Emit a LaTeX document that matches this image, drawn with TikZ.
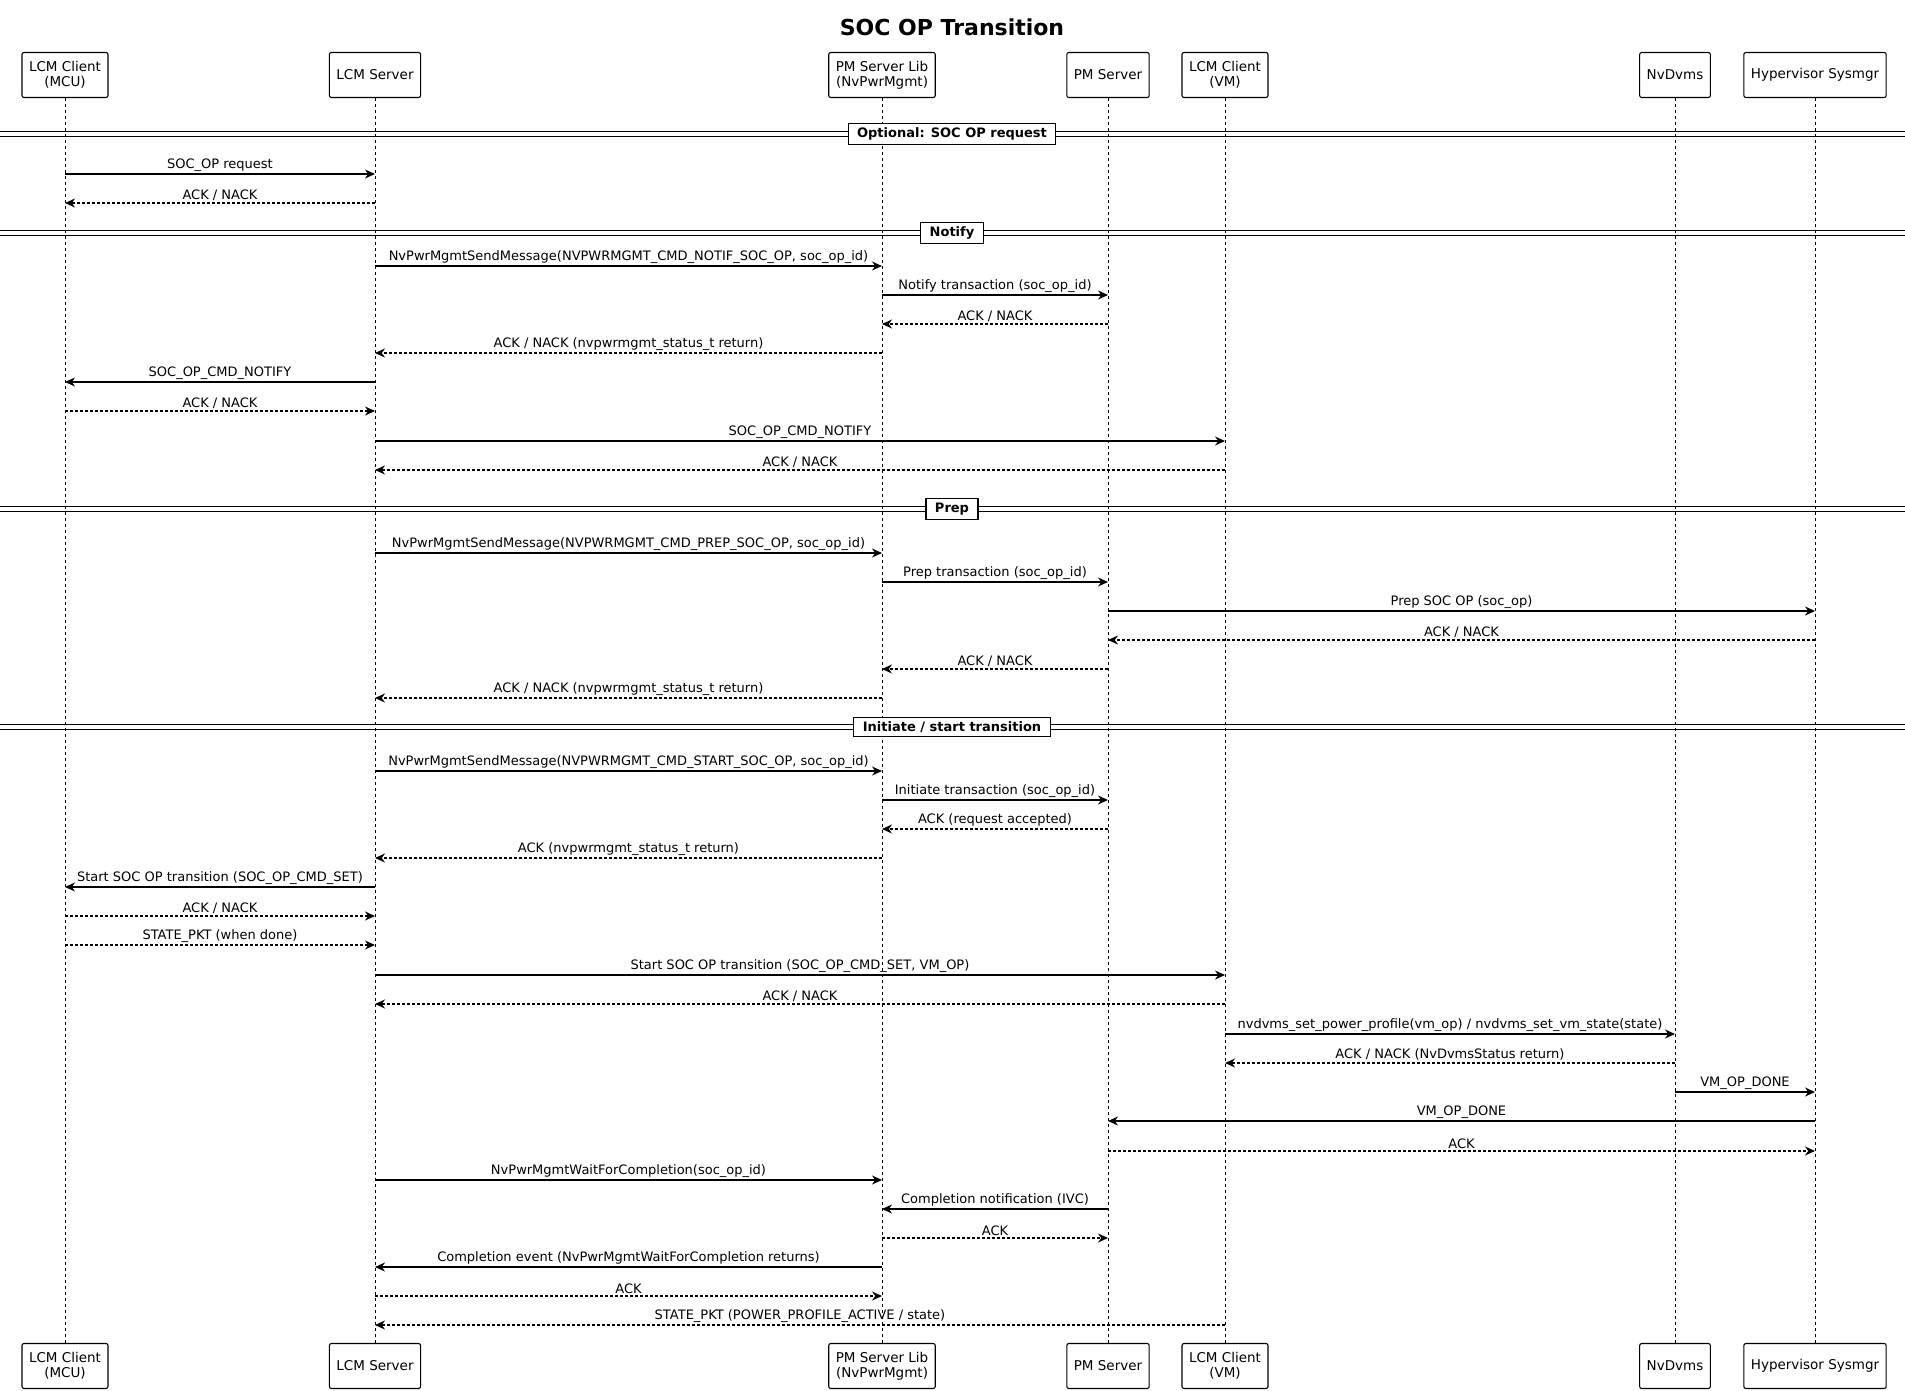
\documentclass[tikz,border=0pt]{standalone}
\usepackage{fontspec}
\setmainfont{DejaVu Sans}
\usetikzlibrary{arrows.meta}
\tikzset{
  part/.style={draw, line width=1.1pt, rounded corners=2pt, align=center, minimum height=45pt, inner xsep=7pt, font=\fontsize{13.5}{15}\selectfont},
  life/.style={dashed, line width=1pt},
  msg/.style={-{Stealth[length=10pt,width=9pt]}, line width=1.2pt},
  ret/.style={msg, densely dashed},
  lbl/.style={above=0pt, font=\fontsize{13}{15}\selectfont, inner sep=2pt},
  sect/.style={draw, line width=1.1pt, fill=white, font=\bfseries\fontsize{13}{15}\selectfont, inner xsep=9pt, inner ysep=4pt}
}
% message between two lifelines at height y
\newcommand{\msgto}[5][msg]{\draw[#1] (#2 |- 0,#4) -- (#3 |- 0,#4) node[midway,lbl] {#5};}
\newcommand{\divider}[2]{
  \draw[line width=1pt] (0,#1-2.5) -- (1905,#1-2.5);
  \draw[line width=1pt] (0,#1+2.5) -- (1905,#1+2.5);
  \node[sect] at (952,#1) {#2};
}
\begin{document}
\begin{tikzpicture}[x=1pt,y=-1pt]
  \useasboundingbox (0,0) rectangle (1905,1391);

  \node[font=\bfseries\fontsize{22}{26}\selectfont] (title) at (952,27) {SOC OP Transition};

  % participants
  \foreach \n/\x/\t in {mcu/65/{LCM Client\\(MCU)}, lcms/375/{LCM Server}, lib/882/{PM Server Lib\\(NvPwrMgmt)},
                        pms/1108/{PM Server}, vm/1225/{LCM Client\\(VM)}, dvms/1675/{NvDvms}, hyp/1815/{Hypervisor Sysmgr}} {
    \node[part] (\n) at (\x,75) {\t};
    \node[part] (\n b) at (\x,1366) {\t};
    \draw[life] (\n) -- (\n b);
  }

  \divider{134}{Optional: SOC OP request}
  \msgto{mcu}{lcms}{174}{SOC\_OP request}
  \msgto[ret]{lcms}{mcu}{203}{ACK / NACK}

  \divider{233}{Notify}
  \msgto{lcms}{lib}{266}{NvPwrMgmtSendMessage(NVPWRMGMT\_CMD\_NOTIF\_SOC\_OP, soc\_op\_id)}
  \msgto{lib}{pms}{295}{Notify transaction (soc\_op\_id)}
  \msgto[ret]{pms}{lib}{324}{ACK / NACK}
  \msgto[ret]{lib}{lcms}{353}{ACK / NACK (nvpwrmgmt\_status\_t return)}
  \msgto{lcms}{mcu}{382}{SOC\_OP\_CMD\_NOTIFY}
  \msgto[ret]{mcu}{lcms}{411}{ACK / NACK}
  \msgto{lcms}{vm}{441}{SOC\_OP\_CMD\_NOTIFY}
  \msgto[ret]{vm}{lcms}{470}{ACK / NACK}

  \divider{509}{Prep}
  \msgto{lcms}{lib}{553}{NvPwrMgmtSendMessage(NVPWRMGMT\_CMD\_PREP\_SOC\_OP, soc\_op\_id)}
  \msgto{lib}{pms}{582}{Prep transaction (soc\_op\_id)}
  \msgto{pms}{hyp}{611}{Prep SOC OP (soc\_op)}
  \msgto[ret]{hyp}{pms}{640}{ACK / NACK}
  \msgto[ret]{pms}{lib}{669}{ACK / NACK}
  \msgto[ret]{lib}{lcms}{698}{ACK / NACK (nvpwrmgmt\_status\_t return)}

  \divider{727}{Initiate / start transition}
  \msgto{lcms}{lib}{771}{NvPwrMgmtSendMessage(NVPWRMGMT\_CMD\_START\_SOC\_OP, soc\_op\_id)}
  \msgto{lib}{pms}{800}{Initiate transaction (soc\_op\_id)}
  \msgto[ret]{pms}{lib}{829}{ACK (request accepted)}
  \msgto[ret]{lib}{lcms}{858}{ACK (nvpwrmgmt\_status\_t return)}
  \msgto{lcms}{mcu}{887}{Start SOC OP transition (SOC\_OP\_CMD\_SET)}
  \msgto[ret]{mcu}{lcms}{916}{ACK / NACK}
  \msgto[ret]{mcu}{lcms}{945}{STATE\_PKT (when done)}
  \msgto{lcms}{vm}{975}{Start SOC OP transition (SOC\_OP\_CMD\_SET, VM\_OP)}
  \msgto[ret]{vm}{lcms}{1004}{ACK / NACK}
  \msgto{vm}{dvms}{1034}{nvdvms\_set\_power\_profile(vm\_op) / nvdvms\_set\_vm\_state(state)}
  \msgto[ret]{dvms}{vm}{1063}{ACK / NACK (NvDvmsStatus return)}
  \msgto{dvms}{hyp}{1092}{VM\_OP\_DONE}
  \msgto{hyp}{pms}{1121}{VM\_OP\_DONE}
  \msgto[ret]{pms}{hyp}{1151}{ACK}
  \msgto{lcms}{lib}{1180}{NvPwrMgmtWaitForCompletion(soc\_op\_id)}
  \msgto{pms}{lib}{1209}{Completion notification (IVC)}
  \msgto[ret]{lib}{pms}{1238}{ACK}
  \msgto{lib}{lcms}{1267}{Completion event (NvPwrMgmtWaitForCompletion returns)}
  \msgto[ret]{lcms}{lib}{1296}{ACK}
  \msgto[ret]{vm}{lcms}{1325}{STATE\_PKT (POWER\_PROFILE\_ACTIVE / state)}
\end{tikzpicture}
\end{document}
